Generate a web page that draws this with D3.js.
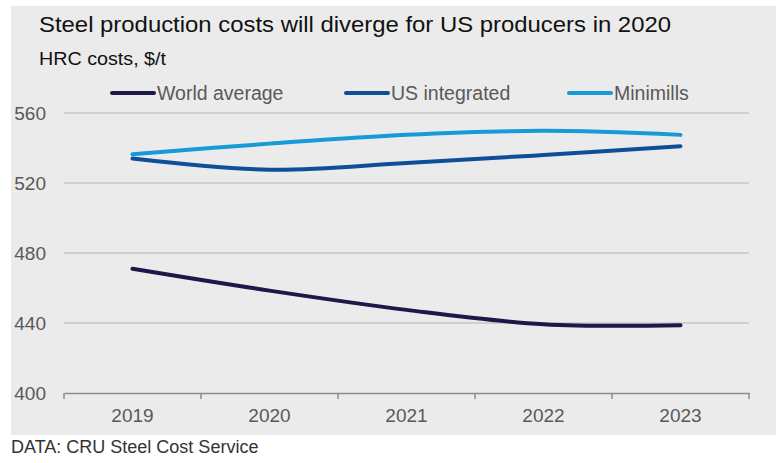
<!DOCTYPE html>
<html>
<head>
<meta charset="utf-8">
<script src="https://cdn.jsdelivr.net/npm/d3@7"></script>
<style>
  body { margin: 0; background: #fff; font-family: "Liberation Sans", Arial, sans-serif; }
</style>
</head>
<body>
<div id="chart"></div>
<script>
// chart data
const years = ["2019", "2020", "2021", "2022", "2023"];
const worldAverage = [471, 458.5, 447.5, 439.3, 438.7];
const usIntegrated = [534, 527.6, 531.4, 536, 541];
const minimills = [536.4, 542.5, 547.6, 549.8, 547.5];
const seriesNames = ["World average", "US integrated", "Minimills"];
const seriesColors = ["#1c1848", "#0f4f9a", "#189ad7"];
const yTicks = [400, 440, 480, 520, 560];

const width = 784, height = 463;
const margin = {top: 113, right: 35, bottom: 70, left: 64};

const svg = d3.select("#chart").append("svg")
    .attr("width", width)
    .attr("height", height);

// grey panel behind the chart
svg.append("rect")
    .attr("x", 11).attr("y", 6)
    .attr("width", 765).attr("height", 429)
    .attr("fill", "#ebebeb");

const x = d3.scaleBand()
    .domain(years)
    .range([margin.left, width - margin.right]);

const y = d3.scaleLinear()
    .domain([400, 560])
    .range([height - margin.bottom, margin.top]);

// gridlines
svg.append("g")
    .selectAll("line")
    .data(yTicks.filter(d => d > 400))
    .enter().append("line")
    .attr("x1", margin.left)
    .attr("x2", width - margin.right)
    .attr("y1", d => y(d))
    .attr("y2", d => y(d))
    .attr("stroke", "#b4b4b4")
    .attr("stroke-width", 1);

// y labels
svg.append("g")
    .selectAll("text")
    .data(yTicks)
    .enter().append("text")
    .attr("x", 46)
    .attr("y", d => y(d))
    .attr("dy", "0.36em")
    .attr("text-anchor", "end")
    .attr("fill", "#595959")
    .style("font-size", "19px")
    .text(d => d);

// x axis
const xAxis = svg.append("g")
    .attr("transform", `translate(0,${y(400)})`)
    .call(d3.axisBottom(x).tickSize(0).tickPadding(16));
xAxis.select(".domain").attr("stroke", "#8c8c8c").attr("stroke-width", 1.5);
xAxis.selectAll("text")
    .attr("fill", "#595959")
    .style("font-size", "19px")
    .style("font-family", "Liberation Sans, Arial, sans-serif");

// tick marks between categories
const bounds = years.map(d => x(d)).concat([x(years[years.length - 1]) + x.bandwidth()]);
svg.append("g")
    .selectAll("line")
    .data(bounds)
    .enter().append("line")
    .attr("x1", d => d).attr("x2", d => d)
    .attr("y1", y(400)).attr("y2", y(400) + 6)
    .attr("stroke", "#8c8c8c")
    .attr("stroke-width", 1.5);

// lines
const allSeries = [worldAverage, usIntegrated, minimills];
const line = d3.line()
    .x((d, i) => x(years[i]) + x.bandwidth() / 2)
    .y(d => y(d))
    .curve(d3.curveCatmullRom.alpha(0.5));

svg.append("g")
    .selectAll("path")
    .data(allSeries)
    .enter().append("path")
    .attr("d", line)
    .attr("fill", "none")
    .attr("stroke", (d, i) => seriesColors[i])
    .attr("stroke-width", 4)
    .attr("stroke-linecap", "round");

// legend
const legendX = [112, 346, 569];
const legend = svg.append("g")
    .selectAll("g")
    .data(seriesNames)
    .enter().append("g")
    .attr("transform", (d, i) => `translate(${legendX[i]},93)`);

legend.append("line")
    .attr("x1", 0).attr("x2", 42)
    .attr("stroke", (d, i) => seriesColors[i])
    .attr("stroke-width", 4)
    .attr("stroke-linecap", "round");

legend.append("text")
    .attr("x", 45)
    .attr("y", 7)
    .attr("fill", "#595959")
    .style("font-size", "19.5px")
    .text(d => d);

// titles
svg.append("text")
    .attr("x", 39).attr("y", 32)
    .attr("fill", "#111")
    .attr("textLength", 632)
    .attr("lengthAdjust", "spacingAndGlyphs")
    .style("font-size", "22px")
    .text("Steel production costs will diverge for US producers in 2020");

svg.append("text")
    .attr("x", 39).attr("y", 65)
    .attr("fill", "#111")
    .attr("textLength", 127)
    .attr("lengthAdjust", "spacingAndGlyphs")
    .style("font-size", "19px")
    .text("HRC costs, $/t");

svg.append("text")
    .attr("x", 11).attr("y", 453)
    .attr("fill", "#333")
    .style("font-size", "18px")
    .text("DATA: CRU Steel Cost Service");
</script>
</body>
</html>
